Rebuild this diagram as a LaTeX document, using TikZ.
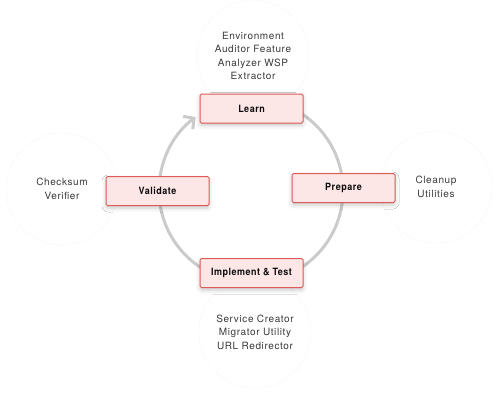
\documentclass[tikz,border=0pt]{standalone}
\usepackage{fontspec}
\setmainfont{TeX Gyre Heros}
\newfontfamily\itemfont[LetterSpace=6]{TeX Gyre Heros}
\newfontfamily\boxfont[LetterSpace=5,FakeStretch=0.9]{TeX Gyre Heros}
\usetikzlibrary{arrows.meta,shadows.blur}
\definecolor{boxred}{HTML}{DD5A55}
\definecolor{boxfill}{HTML}{FDE6E6}
\definecolor{cyc}{HTML}{CACBCA}
\definecolor{txt}{HTML}{3A3A3A}
\begin{document}
\begin{tikzpicture}[x=1pt,y=1pt,
 stage/.style={draw=boxred, line width=1pt, fill=boxfill, rounded corners=1.5pt,
   minimum width=103pt, minimum height=29pt, inner sep=0pt,
   font=\boxfont\bfseries\fontsize{10}{12}\selectfont, text=black!95,
   blur shadow={shadow xshift=0pt, shadow yshift=-2.5pt, shadow blur radius=4pt, shadow opacity=22}},
 toolcirc/.style={circle, fill=white, draw=black!5, densely dotted, line width=0.6pt,
   minimum size=112pt, inner sep=0pt},
 tools/.style={align=center, font=\itemfont\fontsize{10}{13.5}\selectfont, text=txt},
 cyclearc/.style={draw=cyc, line width=3pt},
 cyclehead/.style={-{Straight Barb[length=7.5pt,width=16pt]}}
]
\useasboundingbox (0,0) rectangle (502,400);
% tool circles
\node[toolcirc,tools] (learntools) at (253,344) {Environment\\Auditor Feature\\Analyzer WSP\\Extractor};
\node[toolcirc,tools] (validatetools) at (62,211) {Checksum\\Verifier};
\node[toolcirc,tools] (preparetools) at (436,213) {Cleanup\\Utilities};
\node[toolcirc,tools] (impltools) at (255,68) {Service Creator\\Migrator Utility\\URL Redirector};
% cycle
\coordinate (c) at (251,209.5);
\draw[cyclearc] ([shift={(95:92)}]c) arc[start angle=95,end angle=-175,radius=92];
\draw[cyclearc,cyclehead] ([shift={(185:92)}]c) arc[start angle=185,end angle=127,radius=92];
% stages
\node[stage] (learn) at (251.5,291.5) {Learn};
\node[stage] (prepare) at (343.5,212) {Prepare};
\node[stage] (validate) at (157.5,209) {Validate};
\node[stage] (impl) at (251.5,127) {Implement \& Test};
\end{tikzpicture}
\end{document}
